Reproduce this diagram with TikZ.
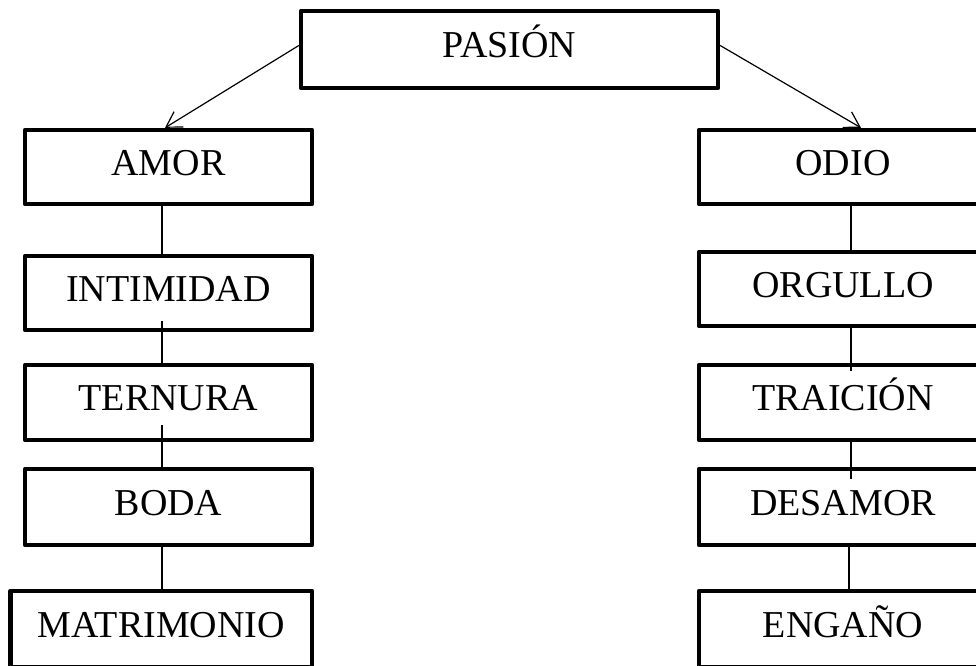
\documentclass[tikz,border=0pt]{standalone}
\usepackage{fontspec}
\setmainfont{Liberation Serif}
\usetikzlibrary{arrows.meta}

\begin{document}
\begin{tikzpicture}[x=0.5pt,y=-0.5pt,>={Straight Barb[length=7.5pt,width=9pt]},
  concept/.style={draw,line width=2.2pt,line join=round,minimum width=143.5pt,
    minimum height=37pt,align=center,font=\fontsize{19}{23}\selectfont,
    text height=12.6pt,text depth=4.5pt,inner sep=2pt},
  link/.style={line width=0.6pt}]
  \useasboundingbox (0,0) rectangle (976,665);
  \clip (0,0) rectangle (976,665);
  \node[concept,minimum width=208.5pt,minimum height=38.5pt] (pasion) at (509.5,49.5) {PASIÓN};
  \node[concept] (amor) at (168.5,167) {AMOR};
  \node[concept] (intimidad) at (168.5,293) {INTIMIDAD};
  \node[concept,minimum height=37.5pt] (ternura) at (168.5,402.5) {TERNURA};
  \node[concept,minimum height=38pt] (boda) at (168.5,507) {BODA};
  \node[concept,minimum width=150.75pt,minimum height=38.25pt] (matrimonio) at (161.25,629.25) {MATRIMONIO};
  \node[concept,minimum width=144pt] (odio) at (843,167) {ODIO};
  \node[concept,minimum width=144pt] (orgullo) at (843,289) {ORGULLO};
  \node[concept,minimum width=144pt,minimum height=37.5pt] (traicion) at (843,402.5) {TRAICIÓN};
  \node[concept,minimum width=144pt,minimum height=38pt] (desamor) at (843,507) {DESAMOR};
  \node[concept,minimum width=144pt,minimum height=38.25pt] (engano) at (843,629.25) {ENGAÑO};
  \draw[->,link] ([yshift=2pt]pasion.west) -- ([xshift=-1.75pt]amor.north);
  \draw[->,link] ([yshift=2pt]pasion.east) -- ([xshift=9pt]odio.north);
  \draw[link] ([xshift=-3.25pt]amor.south) -- ([xshift=-3.25pt]intimidad.north);
  \draw[link] ([xshift=-3.25pt,yshift=5.5pt]intimidad.south) -- ([xshift=-3.25pt]ternura.north);
  \draw[link] ([xshift=-3.25pt,yshift=8.5pt]ternura.south) -- ([xshift=-3.25pt]boda.north);
  \draw[link] ([xshift=-3.25pt]boda.south) -- ([xshift=-3.25pt]boda.south |- matrimonio.north);
  \draw[link] ([xshift=4pt]odio.south) -- ([xshift=4pt]orgullo.north);
  \draw[link] ([xshift=4pt]orgullo.south) -- ([xshift=4pt,yshift=-4pt]traicion.north);
  \draw[link] ([xshift=4pt,yshift=2pt]traicion.south) -- ([xshift=4pt,yshift=-6pt]desamor.north);
  \draw[link] ([xshift=3pt]desamor.south) -- ([xshift=3pt]engano.north);
\end{tikzpicture}
\end{document}
